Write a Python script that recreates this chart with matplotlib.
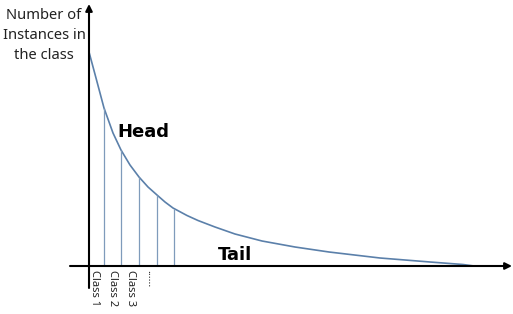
import numpy as np
import matplotlib
matplotlib.use("Agg")
import matplotlib.pyplot as plt

# long-tail curve (x: class rank, y: number of instances)
curve_x = [0, 7, 15, 24, 32, 41, 50, 59, 68, 76, 84, 98, 109, 126, 146, 173,
           206, 240, 291, 341, 374, 385]
curve_y = [214, 188, 158, 133, 116, 101, 89, 79, 71, 64, 58, 50.5, 45.5, 39, 32, 25,
           19, 14, 8, 4, 1.5, 0]

# the head classes marked with vertical lines
class_edges = [15, 32, 50, 68, 85]
class_heights = [158, 116, 89, 71, 57]
class_label_x = [5, 23, 42, 61]
class_labels = ["Class 1", "Class 2", "Class 3", "......"]

CURVE = "#5b80aa"
THIN = "#7f9bbb"

fig = plt.figure(figsize=(5.13, 3.14), dpi=100)
ax = fig.add_axes([0, 0, 1, 1])
ax.set_xlim(-89, 424)
ax.set_ylim(-48, 266)
ax.axis("off")

# axes with arrows
ax.annotate("", xy=(423, 0), xytext=(-19, 0),
            arrowprops=dict(arrowstyle="-|>", color="black", lw=1.5,
                            mutation_scale=10, shrinkA=0, shrinkB=0))
ax.annotate("", xy=(0, 262), xytext=(0, -22),
            arrowprops=dict(arrowstyle="-|>", color="black", lw=1.5,
                            mutation_scale=10, shrinkA=0, shrinkB=0))

ax.plot(curve_x, curve_y, color=CURVE, lw=1.2, solid_joinstyle="round")
ax.vlines(class_edges, 0, class_heights, color=THIN, lw=0.9)

for x, lab in zip(class_label_x, class_labels):
    ax.text(x, -4, lab, rotation=270, ha="center", va="top",
            fontsize=8, color="#222222", family="Noto Sans")

ax.text(-45, 258, "Number of\nInstances in\nthe class", ha="center", va="top",
        multialignment="center", fontsize=10.6, color="#222222",
        family="Noto Sans", linespacing=1.45)
ax.text(28, 134, "Head", fontsize=13, fontweight="bold", ha="left", va="center")
ax.text(129, 11, "Tail", fontsize=13, fontweight="bold", ha="left", va="center")

fig.savefig("out.png", dpi=100)
